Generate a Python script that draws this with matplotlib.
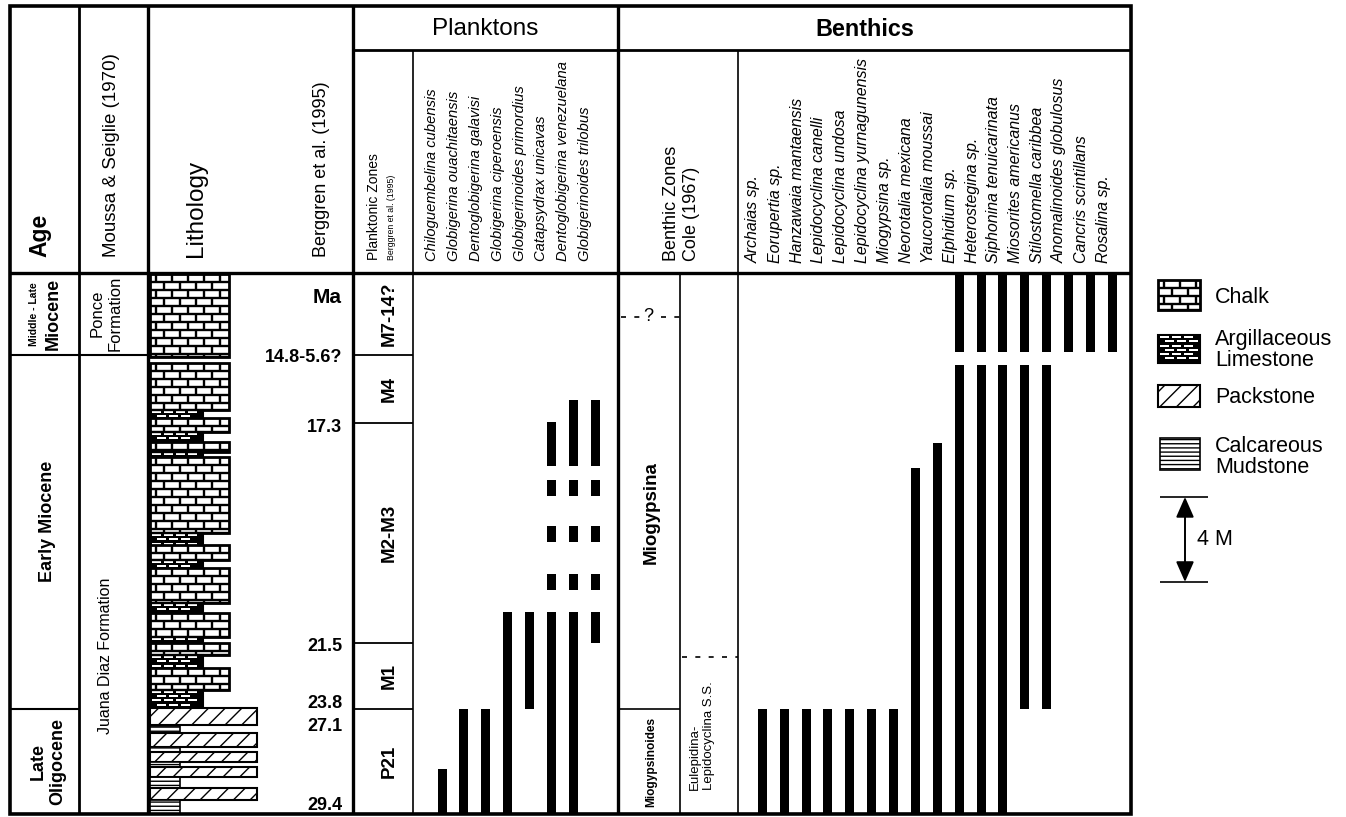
import numpy as np
import matplotlib.pyplot as plt
from matplotlib.patches import Rectangle

# -------------------------
# Data: depths in metres below the top of the section (scale bar = 4 m)
# -------------------------
SECTION_M = 25.46

epoch_labels = ["Miocene", "Early Miocene", "Late\nOligocene"]
epoch_bounds = [0.0, 3.86, 20.52, 25.46]
epoch_label_depth = [1.93, 11.7, 22.99]

formations = ["Ponce\nFormation", "Juana Diaz Formation"]
formation_bounds = [0.0, 3.86, 25.46]
formation_label_depth = [1.9, 18.0]

pl_zones = ["M7-14?", "M4", "M2-M3", "M1", "P21"]
pl_zone_bounds = [0.0, 3.86, 7.06, 17.41, 20.52, 25.46]

ma_labels = ["Ma", "14.8-5.6?", "17.3", "21.5", "23.8", "27.1", "29.4"]
ma_depths = [1.13, 4.0, 7.25, 17.6, 20.24, 21.36, 25.04]

# lithology: C chalk, A argillaceous limestone, P packstone, M calcareous mudstone
litho_type = ["C", "C", "A", "C", "A", "C", "A", "C", "A", "C", "A", "C", "A", "C",
              "A", "C", "A", "C", "A", "P", "M", "P", "M", "P", "M", "P", "M", "P", "M"]
litho_top = [0.05, 4.24, 6.45, 6.82, 7.48, 7.95, 8.42, 8.66, 12.24, 12.80, 13.51, 13.88,
             15.53, 16.0, 17.13, 17.41, 17.98, 18.59, 19.62, 20.47, 21.32, 21.65, 22.31,
             22.54, 23.01, 23.25, 23.72, 24.24, 24.80]
litho_base = [3.95, 6.45, 6.82, 7.48, 7.95, 8.42, 8.66, 12.24, 12.80, 13.51, 13.88, 15.53,
              16.0, 17.13, 17.41, 17.98, 18.59, 19.62, 20.42, 21.27, 21.65, 22.31, 22.54,
              23.01, 23.25, 23.72, 24.24, 24.80, 25.46]

planktons = ["Chiloguembelina cubensis", "Globigerina ouachitaensis",
             "Dentoglobigerina galavisi", "Globigerina ciperoensis",
             "Globigerinoides primordius", "Catapsydrax unicavas",
             "Dentoglobigerina venezuelana", "Globigerinoides trilobus"]
plankton_ranges = [
    [(23.33, 25.46)],
    [(20.52, 25.46)],
    [(20.52, 25.46)],
    [(15.94, 25.46)],
    [(15.94, 20.52)],
    [(6.99, 9.08), (9.74, 10.49), (11.89, 12.68), (14.18, 14.94), (15.94, 25.46)],
    [(5.99, 9.08), (9.74, 10.49), (11.89, 12.68), (14.18, 14.94), (15.94, 25.46)],
    [(5.99, 9.08), (9.74, 10.49), (11.89, 12.68), (14.18, 14.94), (15.94, 17.41)],
]

benthics = ["Archaias sp.", "Eorupertia sp.", "Hanzawaia mantaensis",
            "Lepidocyclina canelli", "Lepidocyclina undosa",
            "Lepidocyclina yurnagunensis", "Miogypsina sp.", "Neorotalia mexicana",
            "Yaucorotalia moussai", "Elphidium sp.", "Heterostegina sp.",
            "Siphonina tenuicarinata", "Miosorites americanus",
            "Stilostomella caribbea", "Anomalinoides globulosus",
            "Cancris scintillans", "Rosalina sp."]
benthic_ranges = (
    [[(20.54, 25.46)]] * 7
    + [[(9.17, 25.46)], [(8.0, 25.46)]]
    + [[(0.0, 3.70), (4.32, 25.46)]] * 3
    + [[(0.0, 3.70), (4.32, 20.54)]] * 2
    + [[(0.0, 3.70)]] * 3
)

ben_zones = ["Miogypsina", "Miogypsinoides"]
ben_zone_bounds = [2.07, 20.52, 25.46]
ben_zone2 = "Eulepidina-\nLepidocyclina S.S."
ben_zone2_top = 18.07

FONT = "Liberation Sans"
plt.rcParams["font.family"] = [FONT, "DejaVu Sans"]

# -------------------------
# Lithology patterns
# -------------------------
BRICK_H = 0.376
BRICK_W = 16
LITHO_X0 = 150
LITHO_X1 = {"C": 229, "A": 203, "P": 257, "M": 180}


def chalk(ax, x0, x1, top, bot):
    ax.add_patch(Rectangle((x0, top), x1 - x0, bot - top, fc="white", ec="black", lw=2))
    rows = np.arange(top, bot - 0.05, BRICK_H)
    for i, r in enumerate(rows):
        r1 = min(r + BRICK_H, bot)
        ax.hlines(r1, x0, x1, color="black", lw=1.7)
        off = 0 if i % 2 == 0 else BRICK_W / 2
        xs = np.arange(x0 + 6 + off, x1 - 3, BRICK_W)
        ax.vlines(xs, r, r1, color="black", lw=1.7)


def argill(ax, x0, x1, top, bot):
    ax.add_patch(Rectangle((x0, top), x1 - x0, bot - top, fc="black", ec="black", lw=1.5))
    rows = np.arange(top + 0.05, bot - 0.1, 0.2)
    for i, r in enumerate(rows):
        off = 0 if i % 2 == 0 else 5
        xr = [(x, 9) for x in np.arange(x0 + 2 + off, x1 - 10, 12)]
        ax.broken_barh(xr, (r, 0.09), facecolors="white")


def packstone(ax, x0, x1, top, bot):
    ax.add_patch(Rectangle((x0, top), x1 - x0, bot - top, fc="white", ec="black",
                           lw=1.5, hatch="//"))


def mudstone(ax, x0, x1, top, bot):
    ax.add_patch(Rectangle((x0, top), x1 - x0, bot - top, fc="white", ec="black",
                           lw=1.2, hatch="----"))


DRAW = {"C": chalk, "A": argill, "P": packstone, "M": mudstone}

# -------------------------
# Figure
# -------------------------
fig = plt.figure(figsize=(13.46, 8.17), dpi=100)
fig.patch.set_facecolor("white")

TOP_PX, BOT_PX, H_PX = 273, 814, 817
ax = fig.add_axes([0, (H_PX - BOT_PX) / H_PX, 1, (BOT_PX - TOP_PX) / H_PX])
ax.set_xlim(0, 1346)
ax.set_ylim(SECTION_M, 0)
ax.axis("off")

hx = fig.add_axes([0, 0, 1, 1])
hx.set_xlim(0, 1346)
hx.set_ylim(H_PX, 0)
hx.axis("off")

# frame
LX, RX, TY = 10, 1131, 6
hx.add_patch(Rectangle((LX, TY), RX - LX, BOT_PX - TY, fill=False, ec="black", lw=2.6))
hx.hlines(50, 353, RX, color="black", lw=2)
hx.hlines(TOP_PX, LX, RX, color="black", lw=2.4)
for x, y0, lw in [(79, TY, 2), (148, TY, 2.4), (353, TY, 2.4), (413, 50, 1.2),
                  (618, TY, 2.4), (738, 50, 1.2)]:
    hx.vlines(x, y0, BOT_PX, color="black", lw=lw)
hx.vlines(680, TOP_PX, BOT_PX, color="black", lw=1.2)

# header texts
rot = dict(rotation=90, ha="center", va="bottom")
hx.text(40, 257, "Age", fontsize=16.5, fontweight="bold", **rot)
hx.text(111, 257, "Moussa & Seiglie (1970)", fontsize=13.5, **rot)
hx.text(196, 257, "Lithology", fontsize=17.5, **rot)
hx.text(321, 257, "Berggren et al. (1995)", fontsize=13, **rot)
hx.text(374, 260, "Planktonic Zones", fontsize=10, **rot)
hx.text(392, 260, "Berggren et al. (1995)", fontsize=6.3, **rot)
hx.text(671, 261, "Benthic Zones", fontsize=13, **rot)
hx.text(692, 261, "Cole (1967)", fontsize=13, **rot)
hx.text(485, 29, "Planktons", fontsize=17.5, ha="center", va="center")
hx.text(865, 29, "Benthics", fontsize=16.8, fontweight="bold", ha="center", va="center")

pl_x = 442 + 21.9 * np.arange(len(planktons))
be_x = 762.3 + 21.875 * np.arange(len(benthics))
for x, name in zip(pl_x, planktons):
    hx.text(x - 10, 261, name, fontsize=10.6, style="italic", **rot)
for x, name in zip(be_x, benthics):
    hx.text(x - 9, 263, name, fontsize=11.5, style="italic", **rot)

# age / epoch column
for i, lab in enumerate(epoch_labels):
    b = epoch_bounds[i + 1]
    if i < len(epoch_labels) - 1:
        ax.hlines(b, LX, 79, color="black", lw=1.5)
    ymid = epoch_label_depth[i]
    if i == 0:
        ax.text(34, ymid, "Middle - Late", fontsize=7.5, fontweight="bold", rotation=90,
                ha="center", va="center")
        ax.text(53, ymid, lab, fontsize=13, fontweight="bold", rotation=90,
                ha="center", va="center")
    else:
        ax.text(48, ymid, lab, fontsize=13, fontweight="bold", rotation=90, ha="center",
                va="center", multialignment="center")

# formation column
for i, lab in enumerate(formations):
    b = formation_bounds[i + 1]
    if i < len(formations) - 1:
        ax.hlines(b, 79, 148, color="black", lw=1.5)
    ax.text(106, formation_label_depth[i], lab, fontsize=12 if i == 0 else 11.5,
            rotation=90, ha="center", va="center", multialignment="center")

# lithology
for kind, t, b in zip(litho_type, litho_top, litho_base):
    DRAW[kind](ax, LITHO_X0, LITHO_X1[kind], t, b)

# Berggren ages
for lab, d in zip(ma_labels, ma_depths):
    ax.text(342, d, lab, fontsize=15 if lab == "Ma" else 13, fontweight="bold",
            ha="right", va="center")

# planktonic zones
for i, lab in enumerate(pl_zones):
    t, b = pl_zone_bounds[i], pl_zone_bounds[i + 1]
    if i < len(pl_zones) - 1:
        ax.hlines(b, 353, 413, color="black", lw=1.3)
    ax.text(389, (t + b) / 2, lab, fontsize=13.5, fontweight="bold", rotation=90,
            ha="center", va="center")

# range bars
for x, segs in zip(pl_x, plankton_ranges):
    for t, b in segs:
        ax.bar(x, b - t, bottom=t, width=9, color="black", linewidth=0)
for x, segs in zip(be_x, benthic_ranges):
    for t, b in segs:
        ax.bar(x, b - t, bottom=t, width=9, color="black", linewidth=0)

# benthic zones
ax.hlines(ben_zone_bounds[0], 621, 680, color="black", lw=1.2, linestyles=(0, (3, 5)))
ax.text(648, ben_zone_bounds[0], "?", fontsize=13, ha="center", va="center",
        bbox=dict(fc="white", ec="none", pad=0.5))
ax.hlines(ben_zone_bounds[1], 620, 680, color="black", lw=1.2)
ax.text(651, (ben_zone_bounds[0] + ben_zone_bounds[1]) / 2, ben_zones[0], fontsize=13.5,
        fontweight="bold", rotation=90, ha="center", va="center")
ax.text(651, (ben_zone_bounds[1] + ben_zone_bounds[2]) / 2, ben_zones[1], fontsize=8.6,
        fontweight="bold", rotation=90, ha="center", va="center")
ax.hlines(ben_zone2_top, 682, 738, color="black", lw=1.2, linestyles=(0, (3, 5)))
ax.text(702, (ben_zone2_top + SECTION_M) / 2, ben_zone2, fontsize=9.5, rotation=90,
        ha="center", va="center", multialignment="left")

# legend
chalk(ax, 1158, 1200, 0.33, 1.74)
argill(ax, 1158, 1200, 2.92, 4.24)
packstone(ax, 1158, 1200, 5.27, 6.31)
mudstone(ax, 1160, 1200, 7.76, 9.27)
LEG_FS = 15.5
ax.text(1215, 1.13, "Chalk", fontsize=LEG_FS, va="center")
ax.text(1215, 3.62, "Argillaceous\nLimestone", fontsize=LEG_FS, va="center",
        linespacing=0.95)
ax.text(1215, 5.88, "Packstone", fontsize=LEG_FS, va="center")
ax.text(1215, 8.66, "Calcareous\nMudstone", fontsize=LEG_FS, va="center",
        linespacing=0.95)

SCALE_TOP = 10.54
ax.hlines([SCALE_TOP, SCALE_TOP + 4], 1160, 1208, color="black", lw=1.2)
ax.annotate("", xy=(1185, SCALE_TOP), xytext=(1185, SCALE_TOP + 4),
            arrowprops=dict(arrowstyle="<|-|>,head_length=0.5,head_width=0.22",
                            color="black", lw=1.4, mutation_scale=25,
                            shrinkA=0, shrinkB=0))
ax.text(1197, SCALE_TOP + 2, "4 M", fontsize=LEG_FS, va="center")

fig.savefig("out.png", dpi=100, facecolor="white")
plt.close(fig)
